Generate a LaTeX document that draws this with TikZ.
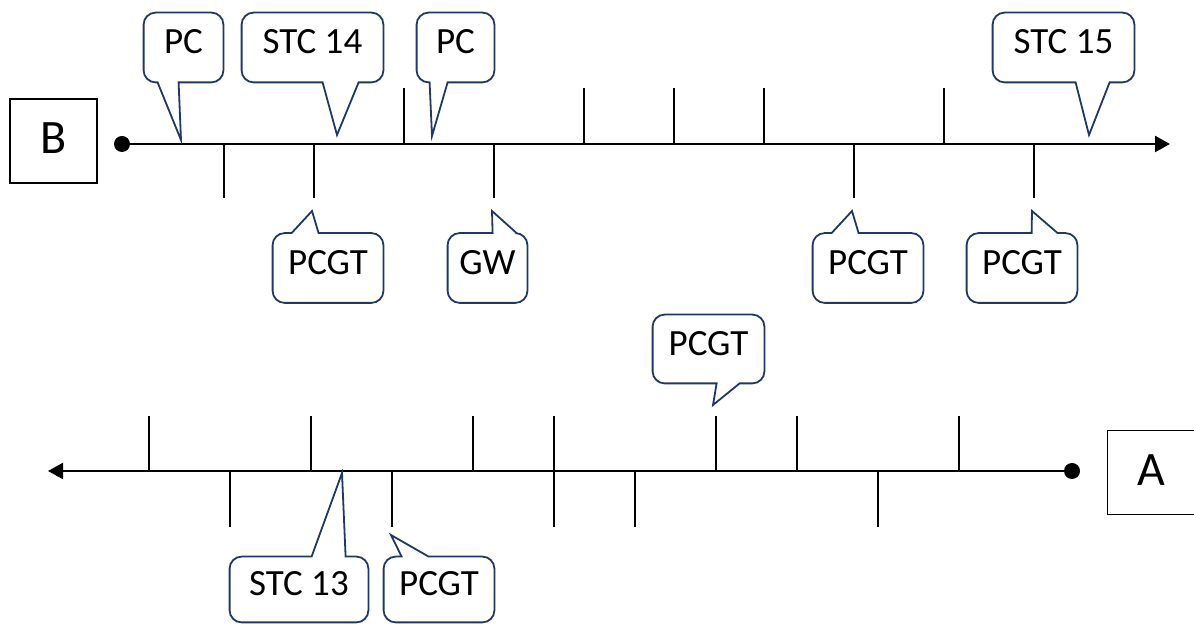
\documentclass[tikz,border=0pt]{standalone}
\usepackage{fontspec}
\setmainfont{Carlito}
\usetikzlibrary{arrows.meta,calc}

\definecolor{calloutBlue}{RGB}{32,56,100}
\tikzset{
	timeline/.style={line width=1.2pt,-{Triangle[length=7.5pt,width=8pt]}},
	tickline/.style={line width=0.8pt},
	dot/.style={circle,fill=black,inner sep=0pt,minimum size=8pt},
	letterbox/.style={draw,line width=0.8pt,inner sep=0pt,minimum width=43.5pt,minimum height=42pt,
				font=\fontsize{24}{28}\selectfont,text height=16pt,text depth=3pt},
	callbox/.style={inner sep=0pt,minimum height=34.5pt,text height=12pt,text depth=5.5pt,
				font=\fontsize{18.5}{22}\selectfont},
	callout/.style={draw=calloutBlue,line width=0.9pt,rounded corners=6pt}
}

\begin{document}
\begin{tikzpicture}[x=0.5pt,y=-0.5pt]
	\useasboundingbox (0,0) rectangle (1194,624);

	% zeitstrahl B
	\node[letterbox] (boxB) at (53.5,141) {B};
	\node[dot] (startB) at (122,144) {};
	\coordinate (endB) at (1170,144);
	\draw[timeline] (startB.center)--(endB);
	\foreach \k in {2,4,5,6,8}
		\draw[tickline] (224+90*\k,144)--++(0,-56);
	\foreach \k in {0,1,3,7,9}
		\draw[tickline] (224+90*\k,144)--++(0,54);

	% zeitstrahl A
	\node[letterbox] (boxA) at (1151,472.5) {A};
	\node[dot] (startA) at (1072,471) {};
	\coordinate (endA) at (48,471);
	\draw[timeline] (startA.center)--(endA);
	\foreach \k in {0,2,4,5,7,8,10}
		\draw[tickline] (149+81*\k,471)--++(0,-55);
	\foreach \k in {1,3,5,6,9}
		\draw[tickline] (149+81*\k,471)--++(0,56);

	% spitzen der sprechblasen
	\coordinate (tPcI) at (181,140);
	\coordinate (tStcXIV) at (337,135);
	\coordinate (tPcII) at (432,136);
	\coordinate (tStcXV) at (1089,135);
	\coordinate (tPcgtI) at (312,211);
	\coordinate (tGw) at (492,211);
	\coordinate (tPcgtII) at (852,211);
	\coordinate (tPcgtIII) at (1032,211);
	\coordinate (tPcgtA) at (713,405);
	\coordinate (tStcXIII) at (342,473);
	\coordinate (tPcgtB) at (391,535);

	% sprechblasen oben
	\node[callbox,minimum width=39.5pt] (pcI) at (183.5,47.5) {PC};
	\node[callbox,minimum width=70.5pt] (stcXIV) at (312.5,47.5) {STC 14};
	\node[callbox,minimum width=38.5pt] (pcII) at (455.5,47.5) {PC};
	\node[callbox,minimum width=70.5pt] (stcXV) at (1063.5,47.5) {STC 15};
	\node[callbox,minimum width=55.5pt,minimum height=34pt] (pcgtA) at (708.5,349) {PCGT};

	\draw[callout] ($(pcI.south west)+(14,0)$)--(pcI.south west)--(pcI.north west)--(pcI.north east)--(pcI.south east)[sharp corners]--($(pcI.south west)+(35,0)$)--(tPcI)--cycle;
	\draw[callout] ($(stcXIV.south west)+(81,0)$)--(stcXIV.south west)--(stcXIV.north west)--(stcXIV.north east)--(stcXIV.south east)[sharp corners]--($(stcXIV.south west)+(117,0)$)--(tStcXIV)--cycle;
	\draw[callout] ($(pcII.south west)+(13,0)$)--(pcII.south west)--(pcII.north west)--(pcII.north east)--(pcII.south east)[sharp corners]--($(pcII.south west)+(31,0)$)--(tPcII)--cycle;
	\draw[callout] ($(stcXV.south west)+(83,0)$)--(stcXV.south west)--(stcXV.north west)--(stcXV.north east)--(stcXV.south east)[sharp corners]--($(stcXV.south west)+(117,0)$)--(tStcXV)--cycle;
	\draw[callout] ($(pcgtA.south west)+(64,0)$)--(pcgtA.south west)--(pcgtA.north west)--(pcgtA.north east)--(pcgtA.south east)[sharp corners]--($(pcgtA.south west)+(87,0)$)--(tPcgtA)--cycle;

	% sprechblasen unten
	\node[callbox,minimum width=55pt] (pcgtI) at (328,268) {PCGT};
	\node[callbox,minimum width=39.5pt] (gw) at (487.5,268) {GW};
	\node[callbox,minimum width=55pt] (pcgtII) at (868,268) {PCGT};
	\node[callbox,minimum width=55pt] (pcgtIII) at (1022,268) {PCGT};
	\node[callbox,minimum width=69pt,minimum height=32.5pt] (stcXIII) at (299,589.5) {STC 13};
	\node[callbox,minimum width=55pt,minimum height=32.5pt] (pcgtB) at (439,589.5) {PCGT};

	\draw[callout] ($(pcgtI.north west)+(46,0)$)--(pcgtI.north east)--(pcgtI.south east)--(pcgtI.south west)--(pcgtI.north west)[sharp corners]--($(pcgtI.north west)+(19,0)$)--(tPcgtI)--cycle;
	\draw[callout] ($(gw.north west)+(69,0)$)--(gw.north east)--(gw.south east)--(gw.south west)--(gw.north west)[sharp corners]--($(gw.north west)+(45,0)$)--(tGw)--cycle;
	\draw[callout] ($(pcgtII.north west)+(46,0)$)--(pcgtII.north east)--(pcgtII.south east)--(pcgtII.south west)--(pcgtII.north west)[sharp corners]--($(pcgtII.north west)+(19,0)$)--(tPcgtII)--cycle;
	\draw[callout] ($(pcgtIII.north west)+(91,0)$)--(pcgtIII.north east)--(pcgtIII.south east)--(pcgtIII.south west)--(pcgtIII.north west)[sharp corners]--($(pcgtIII.north west)+(65,0)$)--(tPcgtIII)--cycle;
	\draw[callout] ($(stcXIII.north west)+(116,0)$)--(stcXIII.north east)--(stcXIII.south east)--(stcXIII.south west)--(stcXIII.north west)[sharp corners]--($(stcXIII.north west)+(82,0)$)--(tStcXIII)--cycle;
	\draw[callout] ($(pcgtB.north west)+(45,0)$)--(pcgtB.north east)--(pcgtB.south east)--(pcgtB.south west)--(pcgtB.north west)[sharp corners]--($(pcgtB.north west)+(18,0)$)--(tPcgtB)--cycle;
\end{tikzpicture}
\end{document}
